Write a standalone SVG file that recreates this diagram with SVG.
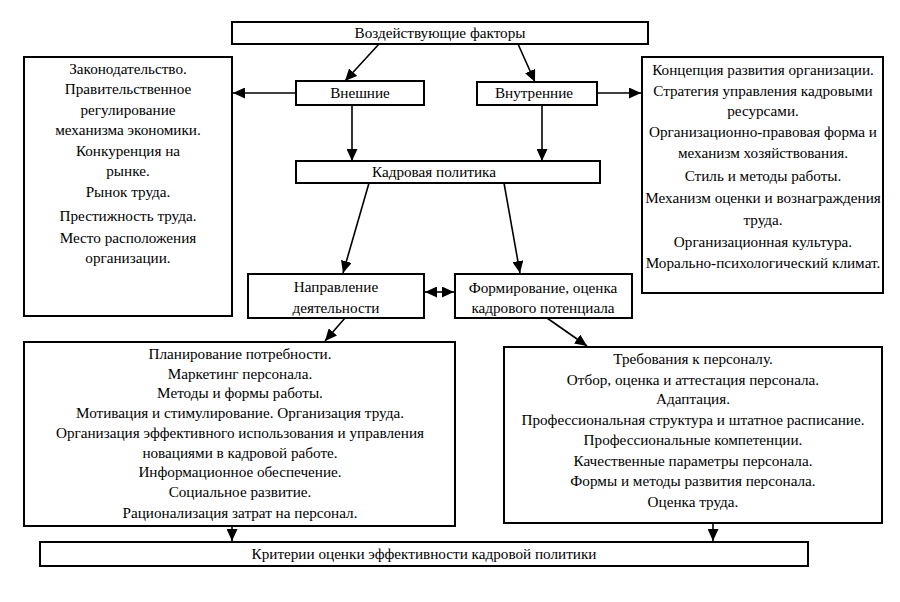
<svg xmlns="http://www.w3.org/2000/svg" width="900" height="602" viewBox="0 0 900 602">
<style>
.box{fill:#fff;stroke:#000;stroke-width:2}
.t{text-anchor:middle;fill:#000}
.c{fill:none;stroke:#000;stroke-width:1.6}
</style>
<defs>
<marker id="ah" markerUnits="userSpaceOnUse" markerWidth="13" markerHeight="11" refX="12" refY="5.5" orient="auto-start-reverse">
<path d="M0,0 L12,5.5 L0,11 Z" fill="#000"/>
</marker>
</defs>
<rect width="900" height="602" fill="#fff"/>
<g id="connectors">
<line class="c" x1="379" y1="44" x2="345" y2="81" marker-end="url(#ah)"/>
<line class="c" x1="518" y1="44" x2="535" y2="82" marker-end="url(#ah)"/>
<line class="c" x1="296" y1="93" x2="233" y2="93" marker-end="url(#ah)"/>
<line class="c" x1="597" y1="93" x2="641" y2="93" marker-end="url(#ah)"/>
<line class="c" x1="352" y1="105" x2="352" y2="161" marker-end="url(#ah)"/>
<line class="c" x1="542" y1="105" x2="542" y2="161" marker-end="url(#ah)"/>
<line class="c" x1="369" y1="183" x2="343" y2="273" marker-end="url(#ah)"/>
<line class="c" x1="504" y1="183" x2="520" y2="273" marker-end="url(#ah)"/>
<line class="c" x1="425" y1="292" x2="454" y2="292" marker-start="url(#ah)" marker-end="url(#ah)"/>
<line class="c" x1="345" y1="318" x2="325" y2="341" marker-end="url(#ah)"/>
<line class="c" x1="547" y1="318" x2="587" y2="346" marker-end="url(#ah)"/>
<line class="c" x1="232" y1="526" x2="232" y2="541" marker-end="url(#ah)"/>
<line class="c" x1="713" y1="523" x2="713" y2="541" marker-end="url(#ah)"/>
</g>
<g font-family="'Liberation Serif', 'Times New Roman', serif" font-size="15.2">
<g id="factors">
<rect class="box" x="232" y="22" width="416" height="22"/>
<text class="t" x="440" y="38">Воздействующие факторы</text>
</g>
<g id="external-list">
<rect class="box" x="24" y="57" width="208" height="259"/>
<text class="t" x="128" y="74">Законодательство.</text>
<text class="t" x="128" y="94">Правительственное</text>
<text class="t" x="128" y="115">регулирование</text>
<text class="t" x="128" y="135">механизма экономики.</text>
<text class="t" x="128" y="156">Конкуренция на</text>
<text class="t" x="128" y="176">рынке.</text>
<text class="t" x="128" y="197">Рынок труда.</text>
<text class="t" x="128" y="221">Престижность труда.</text>
<text class="t" x="128" y="243">Место расположения</text>
<text class="t" x="128" y="263">организации.</text>
</g>
<g id="external">
<rect class="box" x="296" y="81" width="128" height="24"/>
<text class="t" x="360" y="98">Внешние</text>
</g>
<g id="internal">
<rect class="box" x="477" y="82" width="120" height="23"/>
<text class="t" x="534" y="98">Внутренние</text>
</g>
<g id="internal-list">
<rect class="box" x="642" y="57" width="241" height="236"/>
<text class="t" x="763" y="75">Концепция развития организации.</text>
<text class="t" x="763" y="96">Стратегия управления кадровыми</text>
<text class="t" x="763" y="116">ресурсами.</text>
<text class="t" x="763" y="137">Организационно-правовая форма и</text>
<text class="t" x="763" y="158">механизм хозяйствования.</text>
<text class="t" x="763" y="181">Стиль и методы работы.</text>
<text class="t" x="763" y="203">Механизм оценки и вознаграждения</text>
<text class="t" x="763" y="225">труда.</text>
<text class="t" x="763" y="247">Организационная культура.</text>
<text class="t" x="763" y="268">Морально-психологический климат.</text>
</g>
<g id="policy">
<rect class="box" x="296" y="161" width="304" height="22"/>
<text class="t" x="434" y="177">Кадровая политика</text>
</g>
<g id="direction">
<rect class="box" x="248" y="274" width="176" height="44"/>
<text class="t" x="336" y="292">Направление</text>
<text class="t" x="336" y="313">деятельности</text>
</g>
<g id="formation">
<rect class="box" x="455" y="274" width="177" height="44"/>
<text class="t" x="543" y="293">Формирование, оценка</text>
<text class="t" x="543" y="313">кадрового потенциала</text>
</g>
<g id="direction-list">
<rect class="box" x="24" y="342" width="431" height="184"/>
<text class="t" x="240" y="359">Планирование потребности.</text>
<text class="t" x="240" y="379">Маркетинг персонала.</text>
<text class="t" x="240" y="398">Методы и формы работы.</text>
<text class="t" x="240" y="418">Мотивация и стимулирование. Организация труда.</text>
<text class="t" x="240" y="438">Организация эффективного использования  и управления</text>
<text class="t" x="240" y="458">новациями в кадровой работе.</text>
<text class="t" x="240" y="477">Информационное обеспечение.</text>
<text class="t" x="240" y="497">Социальное развитие.</text>
<text class="t" x="240" y="518">Рационализация затрат на персонал.</text>
</g>
<g id="formation-list">
<rect class="box" x="504" y="347" width="378" height="176"/>
<text class="t" x="693" y="364">Требования к персоналу.</text>
<text class="t" x="693" y="385">Отбор, оценка и аттестация персонала.</text>
<text class="t" x="693" y="404">Адаптация.</text>
<text class="t" x="693" y="425">Профессиональная структура и штатное расписание.</text>
<text class="t" x="693" y="445">Профессиональные компетенции.</text>
<text class="t" x="693" y="466">Качественные параметры персонала.</text>
<text class="t" x="693" y="486">Формы и методы развития персонала.</text>
<text class="t" x="693" y="507">Оценка труда.</text>
</g>
<g id="criteria">
<rect class="box" x="40" y="542" width="768" height="24"/>
<text class="t" x="424" y="559">Критерии оценки эффективности кадровой политики</text>
</g>
</g>
</svg>
